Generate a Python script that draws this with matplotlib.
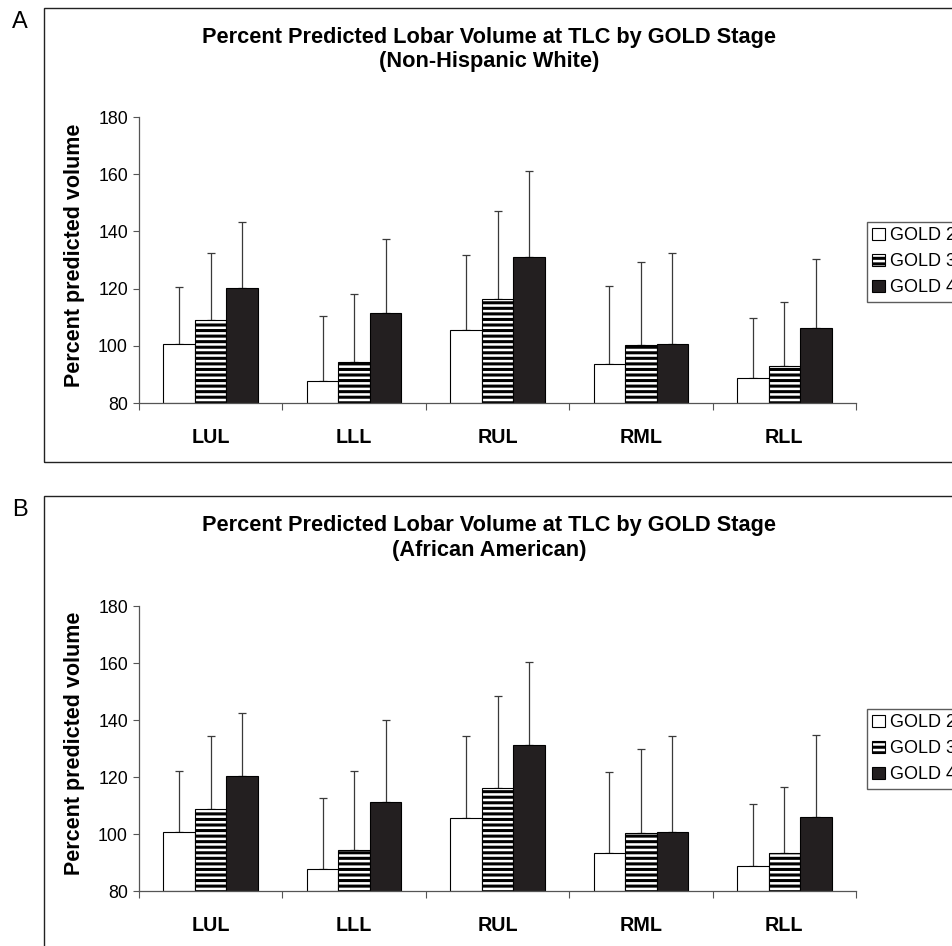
import matplotlib

matplotlib.use("Agg")

import matplotlib.pyplot as plt
from matplotlib.patches import Patch, Rectangle
import numpy as np

plt.rcParams["font.family"] = ["Liberation Sans", "DejaVu Sans"]
plt.rcParams["hatch.linewidth"] = 2.2

lobes = ["LUL", "LLL", "RUL", "RML", "RLL"]
stages = ["GOLD 2", "GOLD 3", "GOLD 4"]

# panel A: Non-Hispanic White (mean, mean + SD)
nhw_mean = {
    "GOLD 2": [100.6, 87.7, 105.4, 93.6, 88.9],
    "GOLD 3": [108.9, 94.3, 116.3, 100.2, 92.9],
    "GOLD 4": [120.3, 111.4, 131.2, 100.5, 106.1],
}
nhw_upper = {
    "GOLD 2": [120.6, 110.5, 131.7, 121.0, 109.6],
    "GOLD 3": [132.5, 118.0, 147.0, 129.3, 115.2],
    "GOLD 4": [143.2, 137.3, 161.0, 132.3, 130.3],
}

# panel B: African American
aa_mean = {
    "GOLD 2": [100.6, 87.7, 105.5, 93.5, 88.8],
    "GOLD 3": [108.9, 94.5, 116.3, 100.2, 93.2],
    "GOLD 4": [120.5, 111.4, 131.4, 100.7, 106.1],
}
aa_upper = {
    "GOLD 2": [122.1, 112.8, 134.5, 121.6, 110.4],
    "GOLD 3": [134.5, 122.2, 148.3, 129.9, 116.6],
    "GOLD 4": [142.5, 140.0, 160.5, 134.4, 134.7],
}

STYLE = {
    "GOLD 2": dict(facecolor="white", hatch=None),
    "GOLD 3": dict(facecolor="white", hatch="---"),
    "GOLD 4": dict(facecolor="#231f20", hatch=None),
}

W, H = 952, 946


def fx(px):
    return px / W


def fy(py):
    return 1 - py / H


def draw_panel(fig, letter, subtitle, means, uppers, top, bottom, box_top, box_bottom, legend_top):
    # panel frame, running off the right edge
    fig.add_artist(Rectangle((fx(44), fy(box_bottom)), fx(960) - fx(44), fy(box_top) - fy(box_bottom),
                             transform=fig.transFigure, fill=False, edgecolor="#222222",
                             linewidth=1.0, clip_on=False))
    fig.text(fx(20), fy(box_top + 14), letter, fontsize=17, ha="center", va="center")
    fig.text(fx(489), fy(box_top + 29), "Percent Predicted Lobar Volume at TLC by GOLD Stage",
             fontsize=15.7, fontweight="bold", ha="center", va="center")
    fig.text(fx(489), fy(box_top + 54), subtitle, fontsize=15.7, fontweight="bold",
             ha="center", va="center")
    fig.text(fx(75), fy((top + bottom) / 2 - 5), "Percent predicted volume", fontsize=15.5,
             fontweight="bold", rotation=90, ha="center", va="center")

    ax = fig.add_axes([fx(139), fy(bottom), fx(856) - fx(139), fy(top) - fy(bottom)])
    x = np.arange(len(lobes)) + 0.5
    width = 0.22
    handles = []
    for i, stage in enumerate(stages):
        pos = x + (i - 1) * width
        m = np.array(means[stage])
        err = np.array(uppers[stage]) - m
        st = STYLE[stage]
        ax.bar(pos, m - 80, width, bottom=80, facecolor=st["facecolor"], edgecolor="black",
               hatch=st["hatch"], linewidth=0.8, zorder=2)
        ax.errorbar(pos, m, yerr=[np.zeros_like(err), err], fmt="none", ecolor="#3a3a3a",
                    elinewidth=0.9, capsize=2.8, capthick=0.9, zorder=1)
        handles.append(Patch(facecolor=st["facecolor"], edgecolor="black", hatch=st["hatch"],
                             linewidth=0.8, label=stage))

    ax.set_xlim(0, 5)
    ax.set_ylim(80, 180)
    ax.set_yticks(np.arange(80, 181, 20))
    ax.set_xticks(x)
    ax.set_xticklabels(lobes, fontsize=14.2, fontweight="bold")
    ax.set_xticks(np.arange(0, 6), minor=True)
    ax.tick_params(axis="x", which="major", length=0, pad=18)
    ax.tick_params(axis="x", which="minor", length=5, width=0.8, color="#555555", direction="out")
    ax.tick_params(axis="y", length=4, width=0.8, color="#555555", labelsize=12.8, pad=4)
    for side in ("top", "right"):
        ax.spines[side].set_visible(False)
    for side in ("left", "bottom"):
        ax.spines[side].set_color("#555555")
        ax.spines[side].set_linewidth(0.9)

    fig.legend(handles=handles, loc="upper left", bbox_to_anchor=(fx(867), fy(legend_top)),
               fontsize=13, frameon=True, fancybox=False, edgecolor="#333333",
               handlelength=0.7, handleheight=0.7, handletextpad=0.3, labelspacing=0.5,
               borderpad=0.3, borderaxespad=0)


fig = plt.figure(figsize=(9.52, 9.46), dpi=100)
draw_panel(fig, "A", "(Non-Hispanic White)", nhw_mean, nhw_upper,
           top=117, bottom=403, box_top=8, box_bottom=462, legend_top=222)
draw_panel(fig, "B", "(African American)", aa_mean, aa_upper,
           top=606, bottom=891, box_top=496, box_bottom=952, legend_top=709)

fig.savefig("out.png", dpi=100)
plt.close(fig)
